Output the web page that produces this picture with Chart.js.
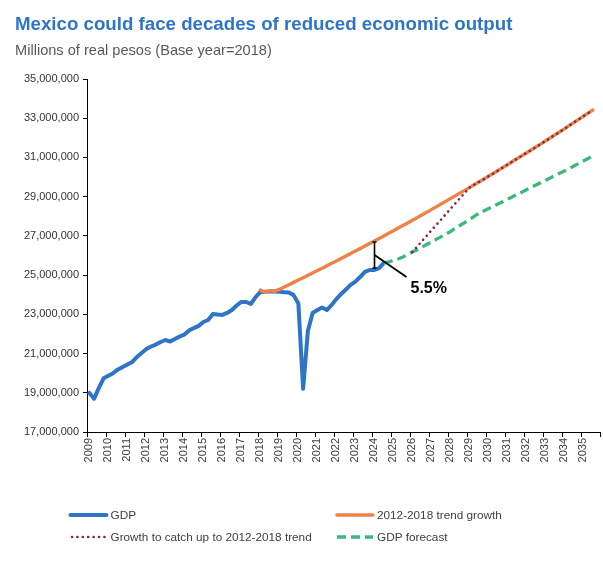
<!DOCTYPE html>
<html>
<head>
<meta charset="utf-8">
<script src="https://cdn.jsdelivr.net/npm/chart.js@4/dist/chart.umd.min.js"></script>
<style>
html,body{margin:0;padding:0;background:#ffffff;}
canvas{display:block;}
</style>
</head>
<body>
<canvas id="c" width="603" height="562"></canvas>
<script>
// ---------------- DATA ----------------
const TITLE = 'Mexico could face decades of reduced economic output';
const SUBTITLE = 'Millions of real pesos (Base year=2018)';
const YEARS = [2009,2010,2011,2012,2013,2014,2015,2016,2017,2018,2019,2020,2021,2022,
               2023,2024,2025,2026,2027,2028,2029,2030,2031,2032,2033,2034,2035];
const QUARTERS = ['Q1','Q2','Q3','Q4'];
const Y_TICKS = [17000000,19000000,21000000,23000000,25000000,27000000,29000000,31000000,33000000,35000000];
const UNIT = 1000000; // series values below are in millions of the axis unit

const SERIES_NAMES = ['GDP','2012-2018 trend growth','Growth to catch up to 2012-2018 trend','GDP forecast'];

const GDP_START = '2009 Q1';
const GDP = [
  18.99, 18.70, 19.25, 19.74,
  19.87, 20.00, 20.19, 20.31,
  20.44, 20.57, 20.82, 21.03,
  21.23, 21.36, 21.46, 21.59,
  21.69, 21.61, 21.74, 21.87,
  21.97, 22.18, 22.30, 22.41,
  22.61, 22.71, 23.02, 22.99,
  22.97, 23.07, 23.22, 23.45,
  23.63, 23.63, 23.53, 23.88,
  24.14, 24.15, 24.16, 24.16,
  24.15, 24.13, 24.11, 23.98,
  23.55, 19.20, 22.15, 23.07,
  23.22, 23.35, 23.22, 23.48,
  23.78, 24.04, 24.27, 24.50,
  24.67, 24.90, 25.16, 25.26,
  25.26, 25.36, 25.62
];

const TREND_START = '2018 Q1';
const TREND = [
  24.24, 24.12, 24.21, 24.18,
  24.27, 24.39, 24.51, 24.63,
  24.75, 24.87, 24.99, 25.11,
  25.23, 25.35, 25.48, 25.60,
  25.72, 25.85, 25.97, 26.10,
  26.23, 26.35, 26.48, 26.61,
  26.74, 26.87, 27.00, 27.13,
  27.26, 27.40, 27.53, 27.66,
  27.80, 27.93, 28.07, 28.20,
  28.34, 28.48, 28.62, 28.76,
  28.90, 29.04, 29.18, 29.32,
  29.46, 29.61, 29.75, 29.89,
  30.04, 30.18, 30.33, 30.48,
  30.63, 30.78, 30.93, 31.08,
  31.23, 31.38, 31.53, 31.68,
  31.84, 31.99, 32.15, 32.30,
  32.46, 32.62, 32.78, 32.94,
  33.10, 33.26, 33.42
];

const CATCHUP_START = '2026 Q1';
const CATCHUP = [
  26.18, 26.45, 26.73, 27.00,
  27.28, 27.55, 27.82, 28.10,
  28.37, 28.65, 28.92, 29.19,
  29.46, 29.61, 29.75, 29.89,
  30.04, 30.18, 30.33, 30.48,
  30.63, 30.78, 30.93, 31.08,
  31.23, 31.38, 31.53, 31.68,
  31.84, 31.99, 32.15, 32.30,
  32.46, 32.62, 32.78, 32.94,
  33.10, 33.26, 33.42
];

const FORECAST_START = '2024 Q3';
const FORECAST = [
  25.62, 25.67,
  25.75, 25.82, 25.92, 26.05,
  26.18, 26.29, 26.42, 26.56,
  26.69, 26.82, 26.95, 27.08,
  27.22, 27.38, 27.53, 27.68,
  27.84, 27.99, 28.15, 28.27,
  28.39, 28.50, 28.63, 28.74,
  28.87, 28.98, 29.11, 29.22,
  29.35, 29.47, 29.59, 29.71,
  29.83, 29.95, 30.08, 30.19,
  30.31, 30.43, 30.56, 30.69,
  30.82, 30.95, 31.07
];

const GAP_AT = '2024 Q1';
const GAP_LABEL = '5.5%';

// ---------------- BUILD ----------------
const CATEGORIES = [];
YEARS.forEach(y => QUARTERS.forEach(q => CATEGORIES.push(y + ' ' + q)));

function place(start, values) {
  const out = new Array(CATEGORIES.length).fill(null);
  const s = CATEGORIES.indexOf(start);
  values.forEach((v, k) => { out[s + k] = v * UNIT; });
  return out;
}

const COLORS = {
  gdp: '#2E75C7',
  trend: '#EE8345',
  catchup: '#7C2A50',
  forecast: '#3DB87B',
  title: '#2E75C7'
};
const FONT = '"Liberation Sans", Arial, sans-serif';

const datasets = [
  { label: SERIES_NAMES[0], data: place(GDP_START, GDP), borderColor: COLORS.gdp, borderWidth: 4, order: 3 },
  { label: SERIES_NAMES[1], data: place(TREND_START, TREND), borderColor: COLORS.trend, borderWidth: 3.4, order: 2 },
  { label: SERIES_NAMES[2], data: place(CATCHUP_START, CATCHUP), borderColor: COLORS.catchup, borderWidth: 2.6,
    borderDash: [0.1, 5.3], borderCapStyle: 'round', order: 0 },
  { label: SERIES_NAMES[3], data: place(FORECAST_START, FORECAST), borderColor: COLORS.forecast, borderWidth: 3.3,
    borderDash: [9, 5], borderCapStyle: 'butt', order: 1 }
];
datasets.forEach(d => {
  d.pointRadius = 0; d.pointHoverRadius = 0; d.tension = 0; d.fill = false;
  d.borderJoinStyle = 'round'; d.spanGaps = false;
  if (!d.borderCapStyle) d.borderCapStyle = 'round';
});

const decorPlugin = {
  id: 'decor',
  afterDraw(chart) {
    const ctx = chart.ctx;
    const xs = chart.scales.x, ys = chart.scales.y;
    ctx.save();
    // Title & subtitle
    ctx.textBaseline = 'alphabetic';
    ctx.textAlign = 'left';
    ctx.fillStyle = COLORS.title;
    ctx.font = 'bold 18.7px ' + FONT;
    ctx.fillText(TITLE, 15, 30);
    ctx.fillStyle = '#595959';
    ctx.font = '14.6px ' + FONT;
    ctx.fillText(SUBTITLE, 15, 55);

    // Gap annotation
    const gi = CATEGORIES.indexOf(GAP_AT);
    const px = Math.round(xs.getPixelForValue(gi)) + 0.5;
    const yTop = ys.getPixelForValue(datasets[1].data[gi]) + 1;
    const yBot = ys.getPixelForValue(datasets[0].data[gi]) - 2;
    const mid = (yTop + yBot) / 2;
    ctx.strokeStyle = '#000';
    ctx.lineWidth = 1.6;
    ctx.lineCap = 'butt';
    ctx.beginPath();
    ctx.moveTo(px, yTop); ctx.lineTo(px, yBot);
    ctx.moveTo(px - 2, yTop); ctx.lineTo(px + 2, yTop);
    ctx.moveTo(px - 2, yBot); ctx.lineTo(px + 2, yBot);
    ctx.stroke();
    ctx.lineWidth = 1.8;
    ctx.beginPath();
    ctx.moveTo(px, mid); ctx.lineTo(px + 32, mid + 22);
    ctx.stroke();
    ctx.fillStyle = '#000';
    ctx.font = 'bold 16px ' + FONT;
    ctx.fillText(GAP_LABEL, px + 36, mid + 38);

    // Legend (2 x 2 grid)
    const cols = [70.5, 337];
    const rows = [515, 537];
    ctx.font = '11.75px ' + FONT;
    ctx.textBaseline = 'middle';
    datasets.forEach((d, k) => {
      const x0 = cols[k % 2], y0 = rows[Math.floor(k / 2)];
      ctx.save();
      ctx.strokeStyle = d.borderColor;
      ctx.lineWidth = d.borderWidth;
      ctx.lineCap = d.borderCapStyle || 'round';
      ctx.setLineDash(d.borderDash || []);
      ctx.beginPath();
      ctx.moveTo(x0 + (d.borderDash && d.borderCapStyle === 'round' ? 1.5 : 0), y0);
      ctx.lineTo(x0 + 36, y0);
      ctx.stroke();
      ctx.restore();
      ctx.fillStyle = '#404040';
      ctx.fillText(d.label, x0 + 40, y0 + 0.5);
    });
    ctx.restore();
  }
};

new Chart(document.getElementById('c'), {
  type: 'line',
  data: { labels: CATEGORIES, datasets },
  plugins: [decorPlugin],
  options: {
    responsive: false,
    animation: false,
    devicePixelRatio: 1,
    layout: { padding: { top: 79, left: 0, right: 3, bottom: 90 } },
    plugins: { legend: { display: false }, title: { display: false }, tooltip: { enabled: false } },
    scales: {
      x: {
        type: 'category',
        offset: true,
        afterFit(s) { s.height = 40; s.paddingLeft = 0; s.paddingRight = 0; },
        grid: {
          display: true, drawOnChartArea: false, offset: true, tickLength: 5,
          tickColor: c => (c.index === undefined || c.index % 4 === 0) ? '#000' : 'rgba(0,0,0,0)',
          lineWidth: 1
        },
        border: { display: true, color: '#000', width: 1 },
        ticks: {
          autoSkip: false, maxRotation: 90, minRotation: 90, padding: 1,
          color: '#404040', font: { family: FONT, size: 11 },
          callback: (v, i) => CATEGORIES[i].endsWith(QUARTERS[0]) ? CATEGORIES[i].split(' ')[0] : ''
        }
      },
      y: {
        min: Y_TICKS[0], max: Y_TICKS[Y_TICKS.length - 1],
        afterFit(s) { s.width = 87; },
        afterBuildTicks(s) { s.ticks = Y_TICKS.map(v => ({ value: v })); },
        grid: { display: true, drawOnChartArea: false, tickLength: 4, tickColor: '#000', lineWidth: 1 },
        border: { display: true, color: '#000', width: 1 },
        ticks: {
          padding: 4, color: '#333333', font: { family: FONT, size: 11 },
          callback: v => Number(v).toLocaleString('en-US')
        }
      }
    }
  }
});
</script>
</body>
</html>
